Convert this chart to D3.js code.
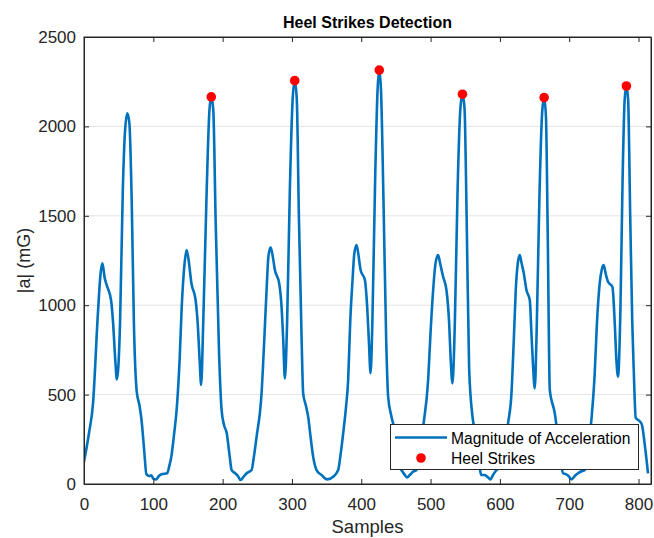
<!DOCTYPE html>
<html>
<head>
<meta charset="utf-8">
<script src="https://cdn.jsdelivr.net/npm/d3@7"></script>
<style>
  body { margin: 0; background: #fff; }
  svg { display: block; font-family: "Liberation Sans", Arial, sans-serif; }
</style>
</head>
<body>
<svg id="chart" width="654" height="538"></svg>
<script>
// ---- data ----
const sampleIdx = [0,7,13,20,24,26.5,30,33,39,42,45,47.5,52,56,59,62.5,65.5,69,72,76,80,83,87,90,94,97,100,104,108,112,120,123,126,130,134,138,141,145,148,151,155,161,164,167,169,172,177,181,183.6,186.5,190,195,198.5,202,206,210,213,218,222,226,230,234.6,241.8,245,249,256,260,263.4,266,269.2,272,275.4,281.6,285,287.5,289.8,293,297,301,304,307,310,314,316.2,320,323.4,327,330.6,335.5,342.8,350.8,359.5,366.7,370,373.9,378,381.1,384,387.4,390,393.2,396,399,405.2,408.5,411,413.4,416,420,423.5,426,428.5,432,436,438.8,443.6,448,452,456,458,462,466.2,470,475,479.6,484,489.3,496.5,500,503.7,507,510.9,514,518.1,522.9,526.8,529,531.6,535,539,543,546,549,552,555.6,560.5,565,569,573.4,578,582,586.4,590,595,600,605,611.8,616.7,620,622.9,626,628.7,631,634.5,638.3,643.1,645.5,648,650.3,653,657,661,663.8,666.5,669,672,679.2,684,688,691.2,695,699,703.3,708,712.8,717,722.4,727,732,736.8,740,744,747,749.8,753,756,762.3,765.7,768,770.4,774,777,780,782.5,785,788,791,793,796,802,805,809,813.7];
const magnitude = [125,280,450,950,1180,1234,1150,1110,1029,900,700,585,899,1644,1961,2073,2017,1551,899,520,440,358,180,55,45,48,30,25,45,55,60,100,153,280,432,700,992,1230,1309,1250,1122,1029,900,680,554,899,1644,2092,2165,2092,1458,712,414,330,283,160,78,60,45,22,40,60,78,150,265,498,800,1085,1270,1324,1280,1197,1122,992,800,591,900,1650,2150,2256,2150,1500,800,507,440,376,260,153,78,50,26,41,78,160,283,430,582,900,1141,1290,1337,1280,1197,1141,992,800,619,900,1700,2200,2315,2200,1600,800,488,376,300,180,90,78,55,37,50,70,78,160,321,582,850,1085,1230,1281,1230,1159,1085,899,700,563,900,1650,2100,2180,2100,1500,650,376,280,150,50,50,40,26,50,78,90,150,339,507,800,1085,1240,1281,1240,1178,1085,1029,843,650,535,850,1600,2080,2161,2050,1400,526,395,250,120,60,55,45,26,45,60,70,78,180,358,619,900,1122,1200,1225,1170,1131,1103,899,700,600,1000,1700,2150,2226,2150,1500,900,650,370,350,330,220,60];

const strikeIdx = [183.6, 304, 426, 546, 663.8, 782.5];
const strikeVal = [2165, 2256, 2315, 2180, 2161, 2226];

const xTicks = [0,100,200,300,400,500,600,700,800];
const yTicks = [0,500,1000,1500,2000,2500];

const titleText = "Heel Strikes Detection";
const xLabel = "Samples";
const yLabel = "|a| (mG)";
const legendLabels = ["Magnitude of Acceleration", "Heel Strikes"];

// ---- layout ----
const svg = d3.select("#chart");
const L = 84, R = 651, T = 37, B = 484;
const axisColor = "#262626";
const lineColor = "#0072BD";

const x = d3.scaleLinear().domain([0, 818]).range([L, R]);
const y = d3.scaleLinear().domain([0, 2500]).range([B, T]);

// grid
svg.append("g").selectAll("line").data(yTicks.filter(t => t > 0 && t < 2500)).join("line")
  .attr("x1", L).attr("x2", R)
  .attr("y1", d => y(d)).attr("y2", d => y(d))
  .attr("stroke", "#e4e4e4").attr("stroke-width", 1);

// clip
svg.append("clipPath").attr("id", "clip").append("rect")
  .attr("x", L).attr("y", T).attr("width", R - L).attr("height", B - T);

const pts = sampleIdx.map((s, i) => [s, magnitude[i]]);
const line = d3.line().x(d => x(d[0])).y(d => y(d[1])).curve(d3.curveMonotoneX);

svg.append("path").datum(pts)
  .attr("clip-path", "url(#clip)")
  .attr("d", line)
  .attr("fill", "none")
  .attr("stroke", lineColor)
  .attr("stroke-width", 2.6)
  .attr("stroke-linejoin", "round");

svg.append("g").selectAll("circle").data(strikeIdx.map((s, i) => [s, strikeVal[i]])).join("circle")
  .attr("cx", d => x(d[0])).attr("cy", d => y(d[1])).attr("r", 4.8)
  .attr("fill", "#ff0000");

// axes
const tickLen = 5;
const fmt = d3.format("d");
const xAxisB = svg.append("g").attr("transform", `translate(0,${B})`)
  .call(d3.axisBottom(x).tickValues(xTicks).tickFormat(fmt).tickSizeInner(-tickLen).tickSizeOuter(0).tickPadding(14));
const xAxisT = svg.append("g").attr("transform", `translate(0,${T})`)
  .call(d3.axisTop(x).tickValues(xTicks).tickFormat("").tickSizeInner(-tickLen).tickSizeOuter(0));
const yAxisL = svg.append("g").attr("transform", `translate(${L},0)`)
  .call(d3.axisLeft(y).tickValues(yTicks).tickFormat(fmt).tickSizeInner(-tickLen).tickSizeOuter(0).tickPadding(8));
const yAxisR = svg.append("g").attr("transform", `translate(${R},0)`)
  .call(d3.axisRight(y).tickValues(yTicks).tickFormat("").tickSizeInner(-tickLen).tickSizeOuter(0));

[xAxisB, xAxisT, yAxisL, yAxisR].forEach(g => {
  g.select(".domain").attr("stroke", axisColor).attr("stroke-width", 1);
  g.selectAll(".tick line").attr("stroke", axisColor);
  g.selectAll("text").attr("fill", axisColor).attr("font-size", 17)
    .attr("font-family", "'Liberation Sans', Arial, sans-serif");
});
xAxisB.selectAll(".tick text").attr("dy", "0.71em");

// box edges fully
svg.append("rect").attr("x", L).attr("y", T).attr("width", R - L).attr("height", B - T)
  .attr("fill", "none").attr("stroke", axisColor).attr("stroke-width", 1);

// title and labels
svg.append("text").attr("x", (L + R) / 2).attr("y", 28).attr("text-anchor", "middle")
  .attr("font-size", 16).attr("font-weight", "bold").attr("fill", "#000").text(titleText);
svg.append("text").attr("x", (L + R) / 2).attr("y", 533).attr("text-anchor", "middle")
  .attr("font-size", 18.5).attr("fill", axisColor).text(xLabel);
svg.append("text").attr("transform", `translate(30,${(T + B) / 2}) rotate(-90)`)
  .attr("text-anchor", "middle").attr("font-size", 18).attr("fill", axisColor).text(yLabel);

// legend
const lg = svg.append("g");
lg.append("rect").attr("x", 390.5).attr("y", 424.5).attr("width", 248).attr("height", 45)
  .attr("fill", "#fff").attr("stroke", axisColor).attr("stroke-width", 1);
lg.append("line").attr("x1", 395).attr("x2", 447).attr("y1", 437.5).attr("y2", 437.5)
  .attr("stroke", lineColor).attr("stroke-width", 2.6);
lg.append("circle").attr("cx", 421).attr("cy", 458).attr("r", 4.8).attr("fill", "#ff0000");
lg.selectAll("text").data(legendLabels).join("text")
  .attr("x", 451).attr("y", (d, i) => 443.5 + i * 20)
  .attr("font-size", 15.6).attr("fill", "#000").text(d => d);
</script>
</body>
</html>
